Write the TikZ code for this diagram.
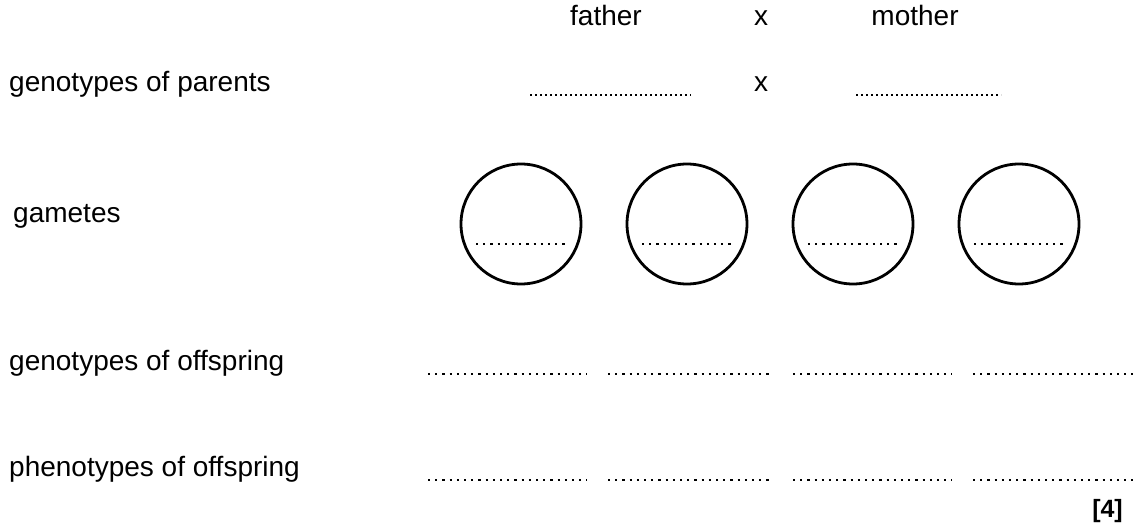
\documentclass[tikz,border=0pt]{standalone}
\usepackage{fontspec}
\setmainfont{Liberation Sans}
\begin{document}
\begin{tikzpicture}[x=1pt,y=-1pt,
  lbl/.style={anchor=base west, inner sep=0pt, font=\fontsize{28}{30}\selectfont},
  ctr/.style={anchor=base, inner sep=0pt, font=\fontsize{28}{30}\selectfont},
  blank/.style={line width=2.1pt, dash pattern=on 2.1pt off 5.1pt},
  fineblank/.style={line width=1.7pt, dash pattern=on 1.7pt off 3.3pt},
  gamete/.style={circle, draw, line width=2.8pt, minimum size=120pt, inner sep=0pt},
]
\useasboundingbox (0,0) rectangle (1140,527);

% heading
\node[ctr] (father) at (606,26) {father};
\node[ctr] (crossA) at (761,26) {x};
\node[ctr] (mother) at (915,26) {mother};

% parents
\node[lbl] (gp) at (9,92) {genotypes of parents};
\coordinate (pf1) at (530,95);
\coordinate (pf2) at (691,95);
\node[ctr] (crossB) at (761,92) {x};
\coordinate (pm1) at (856,95);
\coordinate (pm2) at (1001,95);
\draw[fineblank] (pf1) -- (pf2);
\draw[fineblank] (pm1) -- (pm2);

% gametes
\node[lbl] (gam) at (13,222) {gametes};
\foreach \i/\x in {1/521,2/687,3/853,4/1019}{
  \node[gamete] (g\i) at (\x,224) {};
  \draw[blank] ([shift={(-45,20)}]g\i.center) -- ([shift={(46,20)}]g\i.center);
}

% offspring
\node[lbl] (go) at (9,370) {genotypes of offspring};
\node[lbl] (po) at (9,476) {phenotypes of offspring};
\foreach \i/\a/\b in {1/428/587,2/608/770,3/793/952,4/973/1133}{
  \coordinate (ga\i) at (\a,374);
  \coordinate (gb\i) at (\b,374);
  \draw[blank] (ga\i) -- (gb\i);
  \coordinate (pa\i) at (\a,480);
  \coordinate (pb\i) at (\b,480);
  \draw[blank] (pa\i) -- (pb\i);
}

\node[anchor=base east, inner sep=0pt, font=\fontsize{25}{27}\selectfont\bfseries] (marks) at (1123,517) {[4]};
\end{tikzpicture}
\end{document}
